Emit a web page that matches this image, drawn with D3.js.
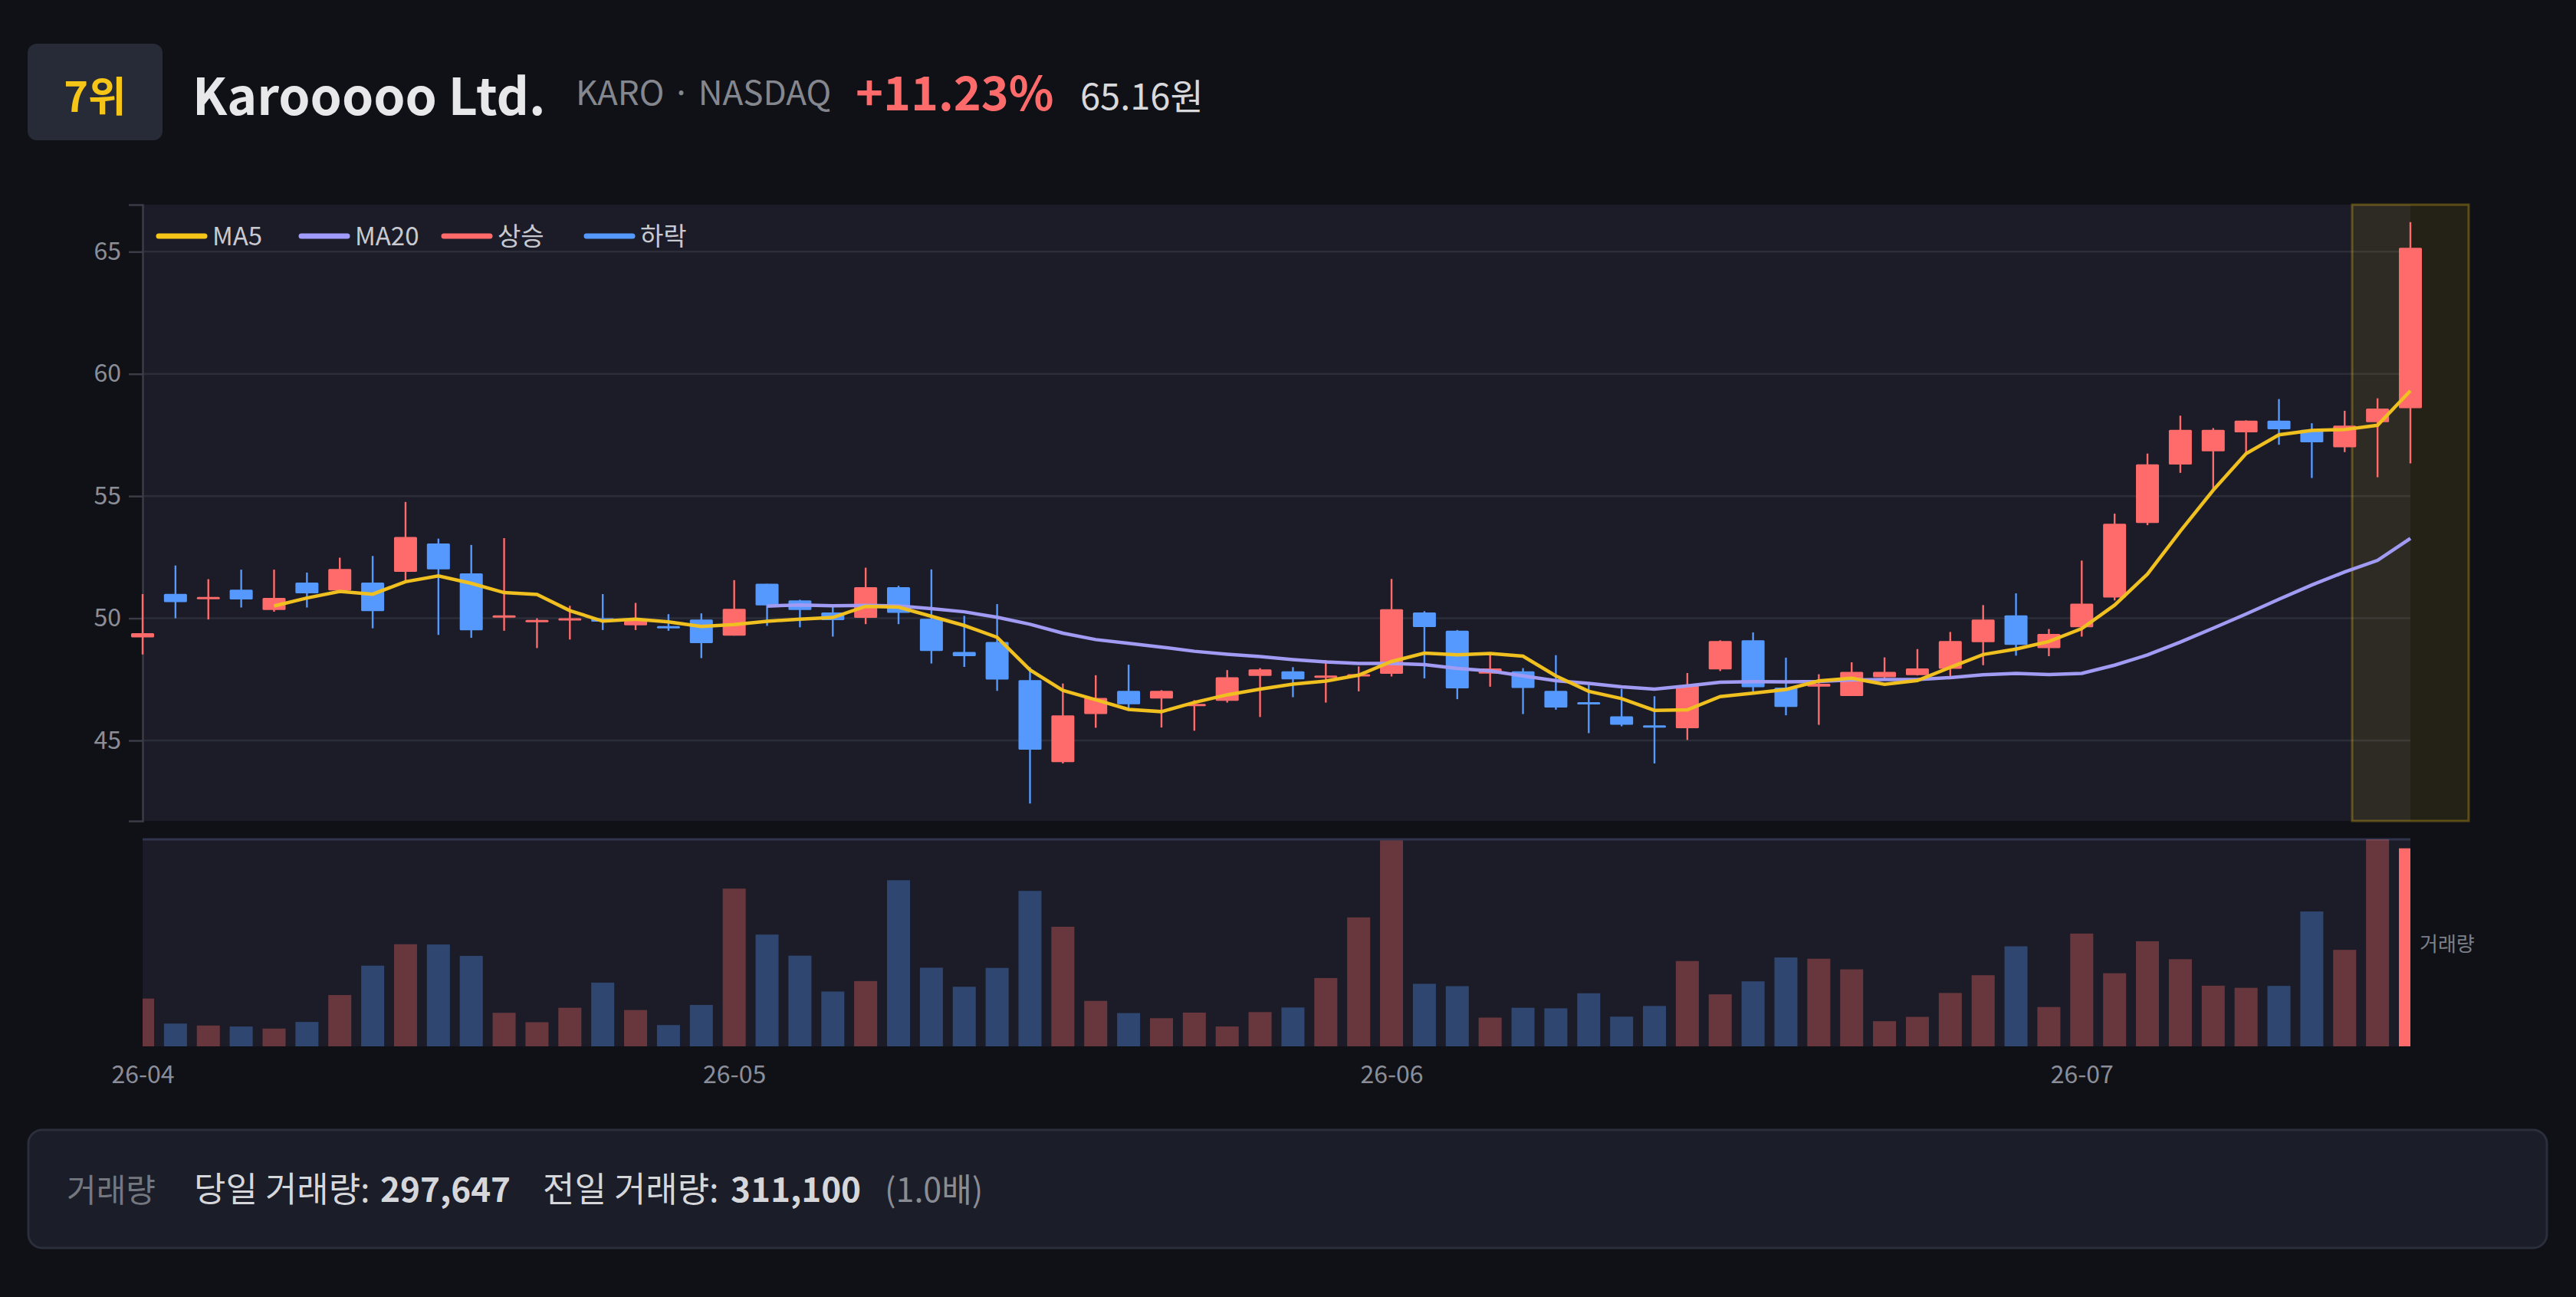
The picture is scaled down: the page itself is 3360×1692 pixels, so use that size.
<!DOCTYPE html>
<html>
<head>
<meta charset="utf-8">
<script src="https://cdn.jsdelivr.net/npm/d3@7"></script>
<style>
  body { margin: 0; background: #101116; }
  svg { display: block; }
  text { font-family: "Noto Sans CJK KR", "Noto Sans", sans-serif; }
</style>
</head>
<body>
<svg id="chart" width="3360" height="1692"></svg>
<script>
// 월별 거래일 수 (x축 라벨)
const months = ["26-04", "26-05", "26-06", "26-07"];
const monthDays = [18, 20, 21, 11];

// 시가 / 고가 / 저가 / 종가
const open = [49.22, 51.0, 50.84, 51.17, 50.34, 51.46, 51.14, 51.46, 51.9, 53.06,
  51.84, 50.05, 49.86, 49.92, 50.0, 49.71, 49.68, 49.95, 49.29, 51.41,
  50.73, 50.24, 50.02, 51.27, 49.98, 48.62, 49.03, 47.47, 44.11, 46.08,
  47.03, 46.72, 46.43, 46.62, 47.64, 47.83, 47.56, 47.62, 47.73, 50.24,
  49.49, 47.74, 47.83, 47.03, 46.57, 45.99, 45.62, 45.5, 47.91, 49.1,
  47.16, 47.2, 46.82, 47.59, 47.67, 47.93, 49.02, 50.12, 48.78, 49.63,
  50.85, 53.9, 56.29, 56.83, 57.61, 58.09, 57.71, 57.0, 58.02, 58.6];
const high = [50.99, 52.16, 51.6, 51.99, 51.99, 51.87, 52.48, 52.55, 54.76, 53.26,
  53.0, 53.28, 50.0, 50.51, 50.99, 50.63, 50.17, 50.2, 51.56, 51.41,
  50.76, 50.51, 52.07, 51.33, 52.0, 50.1, 50.58, 48.0, 47.33, 47.67,
  48.1, 47.06, 46.65, 47.88, 47.96, 48.0, 48.29, 48.03, 51.61, 50.29,
  49.52, 48.56, 47.96, 48.49, 47.28, 47.11, 46.81, 47.76, 49.1, 49.42,
  48.39, 47.71, 48.2, 48.4, 48.74, 49.44, 50.54, 51.02, 49.56, 52.36,
  54.28, 56.74, 58.29, 57.78, 58.1, 58.97, 57.98, 58.49, 59.0, 66.21];
const low = [48.52, 50.0, 49.95, 50.44, 50.27, 50.44, 51.02, 49.59, 51.53, 49.32,
  49.2, 49.49, 48.78, 49.13, 49.52, 49.52, 49.49, 48.37, 49.29, 49.69,
  49.63, 49.25, 49.76, 49.76, 48.15, 48.01, 47.03, 42.42, 44.06, 45.52,
  46.31, 45.53, 45.4, 46.55, 45.96, 46.77, 46.55, 47.01, 47.62, 47.54,
  46.69, 47.2, 46.08, 46.26, 45.3, 45.58, 44.06, 45.02, 47.84, 47.01,
  46.03, 45.64, 46.82, 47.49, 47.66, 47.62, 48.08, 48.47, 48.45, 49.25,
  50.73, 53.81, 55.95, 55.27, 56.76, 57.1, 55.74, 56.8, 55.77, 56.34];
const close = [49.39, 50.66, 50.87, 50.77, 50.83, 51.02, 52.02, 50.29, 53.33, 52.0,
  49.51, 50.12, 49.93, 50.0, 49.86, 49.9, 49.59, 48.98, 50.39, 50.53,
  50.34, 49.92, 51.27, 50.22, 48.66, 48.45, 47.49, 44.62, 46.03, 46.74,
  46.48, 47.03, 46.5, 47.59, 47.91, 47.5, 47.66, 47.71, 50.37, 49.64,
  47.13, 47.95, 47.15, 46.35, 46.47, 45.64, 45.55, 47.25, 49.07, 47.18,
  46.37, 47.32, 47.81, 47.81, 47.95, 49.07, 49.95, 48.91, 49.36, 50.6,
  53.87, 56.3, 57.71, 57.71, 58.09, 57.73, 57.2, 57.88, 58.58, 65.16];

// 거래량
const volume = [71800, 34200, 31300, 29800, 26700, 36700, 77100, 121300, 153500, 153100,
  135900, 50400, 36300, 58000, 95800, 54600, 32000, 62200, 237100, 168000,
  136300, 82400, 98100, 249700, 118200, 89600, 117900, 233600, 179800, 68300,
  50000, 42300, 50700, 29800, 51500, 58400, 102700, 193800, 309500, 94000,
  90500, 43200, 58000, 57200, 79800, 44700, 60700, 128200, 78200, 97700,
  133600, 131700, 115700, 37800, 44300, 80200, 106900, 150400, 59100, 169500,
  109900, 158000, 131000, 91200, 88000, 90800, 202700, 145000, 311100, 297647];

const UP = "#ff6b6b", DOWN = "#5599ff";
const n = close.length;

// 날짜 라벨 (월 + 순번)
const days = [];
months.forEach((m, k) => { for (let d = 0; d < monthDays[k]; d++) days.push(m + "#" + d); });

const ma = (len) => close.map((c, i) => i < len - 1 ? null : d3.mean(close.slice(i - len + 1, i + 1)));
const ma5 = ma(5), ma20 = ma(20);

const svg = d3.select("#chart");

const L = 186, R = 3144;
const pTop = 267, pBot = 1071;
const vTop = 1094, vBot = 1365;

const x = d3.scalePoint().domain(days).range([L, R]);
const lo = d3.min(low), hi = d3.max(high), pad = (hi - lo) * 0.03;
const y = d3.scaleLinear().domain([lo - pad, hi + pad]).range([pBot, pTop]);
const vy = d3.scaleLinear().domain([0, d3.max(volume)]).range([vBot, vTop + 1]);
const bw = x.step() * 0.7;

// 헤더
svg.append("rect").attr("x", 36).attr("y", 57).attr("width", 176).attr("height", 126)
  .attr("rx", 12).attr("fill", "#272b37");
svg.append("text").attr("x", 124).attr("y", 146).attr("text-anchor", "middle")
  .attr("font-size", 54).attr("font-weight", 700).attr("fill", "#f5c518").text("7위");
svg.append("text").attr("x", 251).attr("y", 150)
  .attr("font-size", 66).attr("font-weight", 700).attr("fill", "#e8e8ea").text("Karooooo Ltd.");
svg.append("text").attr("x", 751).attr("y", 137)
  .attr("font-size", 44).attr("fill", "#85878f").text("KARO · NASDAQ");
const pct = (close[n - 1] / close[n - 2] - 1) * 100;
svg.append("text").attr("x", 1116).attr("y", 144)
  .attr("font-size", 61).attr("font-weight", 700).attr("fill", UP).text("+" + pct.toFixed(2) + "%");
svg.append("text").attr("x", 1409).attr("y", 143)
  .attr("font-size", 47).attr("fill", "#d9d9dc").text(close[n - 1].toFixed(2) + "원");

// 패널 배경
svg.append("rect").attr("x", L).attr("y", pTop).attr("width", R - L).attr("height", pBot - pTop).attr("fill", "#1b1c27");
svg.append("rect").attr("x", L).attr("y", vTop).attr("width", R - L).attr("height", vBot - vTop).attr("fill", "#1b1c27");
svg.append("line").attr("x1", L).attr("x2", R).attr("y1", vTop + 1).attr("y2", vTop + 1)
  .attr("stroke", "#30344c").attr("stroke-width", 3);

// 그리드
svg.append("g").selectAll("line").data(y.ticks(5)).join("line")
  .attr("x1", L).attr("x2", R).attr("y1", d => y(d)).attr("y2", d => y(d))
  .attr("stroke", "#2b2d39").attr("stroke-width", 2.5);

// 최근일 강조 박스
svg.append("rect").attr("x", x(days[n - 1]) - 76).attr("y", pTop)
  .attr("width", 152).attr("height", pBot - pTop)
  .attr("fill", "rgba(245,197,24,0.09)").attr("stroke", "rgba(245,197,24,0.3)").attr("stroke-width", 3);

// y축
const yAxis = svg.append("g").attr("transform", `translate(${L},0)`)
  .call(d3.axisLeft(y).ticks(5).tickSize(18).tickPadding(10));
yAxis.selectAll("path, line").attr("stroke", "#3a3c47").attr("stroke-width", 2.5);
yAxis.selectAll("text").attr("fill", "#8b8e98").attr("font-size", 32)
  .attr("font-family", "Noto Sans CJK KR, sans-serif");

// 캔들
const candles = svg.append("g").selectAll("g").data(d3.range(n)).join("g");
candles.append("line")
  .attr("x1", i => x(days[i])).attr("x2", i => x(days[i]))
  .attr("y1", i => y(high[i])).attr("y2", i => y(low[i]))
  .attr("stroke", i => close[i] >= open[i] ? UP : DOWN).attr("stroke-width", 2.4);
candles.append("rect")
  .attr("x", i => x(days[i]) - bw / 2).attr("width", bw)
  .attr("y", i => y(Math.max(open[i], close[i])))
  .attr("height", i => Math.max(3, Math.abs(y(open[i]) - y(close[i]))))
  .attr("rx", 1.5)
  .attr("fill", i => close[i] >= open[i] ? UP : DOWN);

// 이동평균선
const line = d3.line().defined(d => d[1] != null).x(d => x(days[d[0]])).y(d => y(d[1]));
svg.append("path").datum(ma20.map((v, i) => [i, v])).attr("d", line)
  .attr("fill", "none").attr("stroke", "#a29bf4").attr("stroke-width", 4.5);
svg.append("path").datum(ma5.map((v, i) => [i, v])).attr("d", line)
  .attr("fill", "none").attr("stroke", "#f0c020").attr("stroke-width", 4.5);

// 범례
const legend = [["MA5", "#f5c518"], ["MA20", "#a29bfe"], ["상승", UP], ["하락", DOWN]];
const lg = svg.append("g").selectAll("g").data(legend).join("g")
  .attr("transform", (d, k) => `translate(${207 + k * 186},308)`);
lg.append("line").attr("x1", 0).attr("x2", 60).attr("stroke", d => d[1])
  .attr("stroke-width", 7).attr("stroke-linecap", "round");
lg.append("text").attr("x", 70).attr("dy", "0.36em").attr("font-size", 33)
  .attr("fill", "#c9cad1").text(d => d[0]);

// 거래량
svg.append("clipPath").attr("id", "vclip").append("rect")
  .attr("x", L).attr("y", vTop).attr("width", R - L).attr("height", vBot - vTop);
svg.append("g").attr("clip-path", "url(#vclip)").selectAll("rect").data(d3.range(n)).join("rect")
  .attr("x", i => x(days[i]) - bw / 2).attr("width", bw)
  .attr("y", i => vy(volume[i])).attr("height", i => vBot - vy(volume[i]))
  .attr("fill", i => close[i] >= open[i] ? UP : DOWN)
  .attr("opacity", i => i === n - 1 ? 1 : 0.34);
svg.append("text").attr("x", 3156).attr("y", 1232).attr("dy", "0.36em")
  .attr("font-size", 26).attr("fill", "#7d8089").text("거래량");

// x축
const firsts = [];
months.forEach((m, k) => firsts.push(m + "#0"));
const xAxis = svg.append("g").attr("transform", `translate(0,${vBot})`)
  .call(d3.axisBottom(x).tickValues(firsts).tickSize(0).tickPadding(25).tickFormat(d => d.split("#")[0]));
xAxis.select(".domain").remove();
xAxis.selectAll("text").attr("fill", "#8b8e98").attr("font-size", 32)
  .attr("font-family", "Noto Sans CJK KR, sans-serif");

// 하단 거래량 요약
svg.append("rect").attr("x", 37).attr("y", 1474).attr("width", 3285).attr("height", 154)
  .attr("rx", 18).attr("fill", "#1b1d28").attr("stroke", "#2b2e3b").attr("stroke-width", 3);
const fy = 1568;
const foot = [
  [87, "거래량", "#75777f", 400, 42],
  [253, "당일 거래량:", "#d6d7db", 400, 45],
  [496, d3.format(",")(volume[n - 1]), "#d6d7db", 700, 44],
  [708, "전일 거래량:", "#d6d7db", 400, 45],
  [953, d3.format(",")(volume[n - 2]), "#d6d7db", 700, 44],
  [1154, "(" + (volume[n - 1] / volume[n - 2]).toFixed(1) + "배)", "#8a8c94", 400, 43]
];
svg.append("g").selectAll("text").data(foot).join("text")
  .attr("x", d => d[0]).attr("y", fy).attr("font-size", d => d[4])
  .attr("fill", d => d[2]).attr("font-weight", d => d[3]).text(d => d[1]);
</script>
</body>
</html>
